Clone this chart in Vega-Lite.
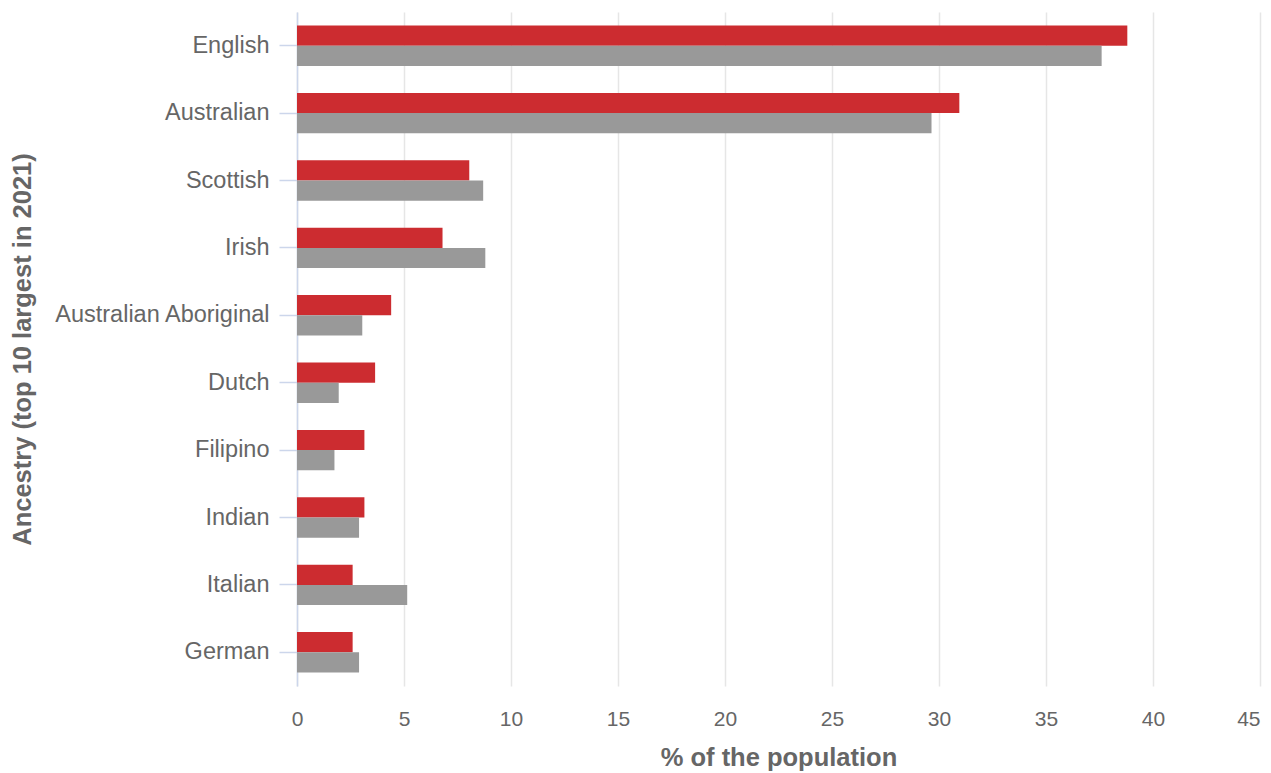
{
  "$schema": "https://vega.github.io/schema/vega-lite/v6.json",
  "autosize": {"type": "none"},
  "padding": {"left": 297, "top": 12, "right": 11, "bottom": 87},
  "width": 963,
  "height": 674,
  "background": "white",
  "config": {
    "view": {"stroke": null},
    "font": "Liberation Sans"
  },
  "data": {
    "values": [
      {"ancestry": "English", "series": "Area", "pct": 38.8},
      {"ancestry": "English", "series": "Australia", "pct": 37.6},
      {"ancestry": "Australian", "series": "Area", "pct": 30.95},
      {"ancestry": "Australian", "series": "Australia", "pct": 29.65},
      {"ancestry": "Scottish", "series": "Area", "pct": 8.05},
      {"ancestry": "Scottish", "series": "Australia", "pct": 8.7},
      {"ancestry": "Irish", "series": "Area", "pct": 6.8},
      {"ancestry": "Irish", "series": "Australia", "pct": 8.8},
      {"ancestry": "Australian Aboriginal", "series": "Area", "pct": 4.4},
      {"ancestry": "Australian Aboriginal", "series": "Australia", "pct": 3.05},
      {"ancestry": "Dutch", "series": "Area", "pct": 3.65},
      {"ancestry": "Dutch", "series": "Australia", "pct": 1.95},
      {"ancestry": "Filipino", "series": "Area", "pct": 3.15},
      {"ancestry": "Filipino", "series": "Australia", "pct": 1.75},
      {"ancestry": "Indian", "series": "Area", "pct": 3.15},
      {"ancestry": "Indian", "series": "Australia", "pct": 2.9},
      {"ancestry": "Italian", "series": "Area", "pct": 2.6},
      {"ancestry": "Italian", "series": "Australia", "pct": 5.15},
      {"ancestry": "German", "series": "Area", "pct": 2.6},
      {"ancestry": "German", "series": "Australia", "pct": 2.9}
    ]
  },
  "mark": {"type": "bar"},
  "encoding": {
    "y": {
      "field": "ancestry",
      "type": "nominal",
      "sort": null,
      "scale": {"paddingInner": 0.4, "paddingOuter": 0.2},
      "axis": {
        "title": "Ancestry (top 10 largest in 2021)",
        "titleFontSize": 25.5,
        "titleFontWeight": "bold",
        "titleColor": "#666666",
        "titleX": -275,
        "titleY": 337,
        "titleAngle": -90,
        "titleAlign": "center",
        "titleBaseline": "middle",
        "labelFontSize": 23.5,
        "labelColor": "#666666",
        "labelPadding": 10,
        "labelLimit": 0,
        "domainColor": "#ccd6eb",
        "domainWidth": 1.5,
        "tickColor": "#ccd6eb",
        "tickWidth": 1.5,
        "tickSize": 18,
        "grid": false
      }
    },
    "yOffset": {"field": "series", "type": "nominal", "sort": ["Area", "Australia"]},
    "x": {
      "field": "pct",
      "type": "quantitative",
      "scale": {"domain": [0, 45], "nice": false},
      "axis": {
        "title": "% of the population",
        "titleFontSize": 25.5,
        "titleFontWeight": "bold",
        "titleColor": "#666666",
        "titlePadding": 16,
        "labelFontSize": 21,
        "labelColor": "#666666",
        "labelPadding": 22,
        "labelFlush": false,
        "labelAlign": {"expr": "datum.value == 45 ? 'right' : 'center'"},
        "values": [0, 5, 10, 15, 20, 25, 30, 35, 40, 45],
        "domain": false,
        "ticks": false,
        "grid": true,
        "gridColor": "#e6e6e6",
        "gridWidth": 1.5
      }
    },
    "color": {
      "field": "series",
      "type": "nominal",
      "scale": {"domain": ["Area", "Australia"], "range": ["#cc2c30", "#999999"]},
      "legend": null
    }
  }
}
